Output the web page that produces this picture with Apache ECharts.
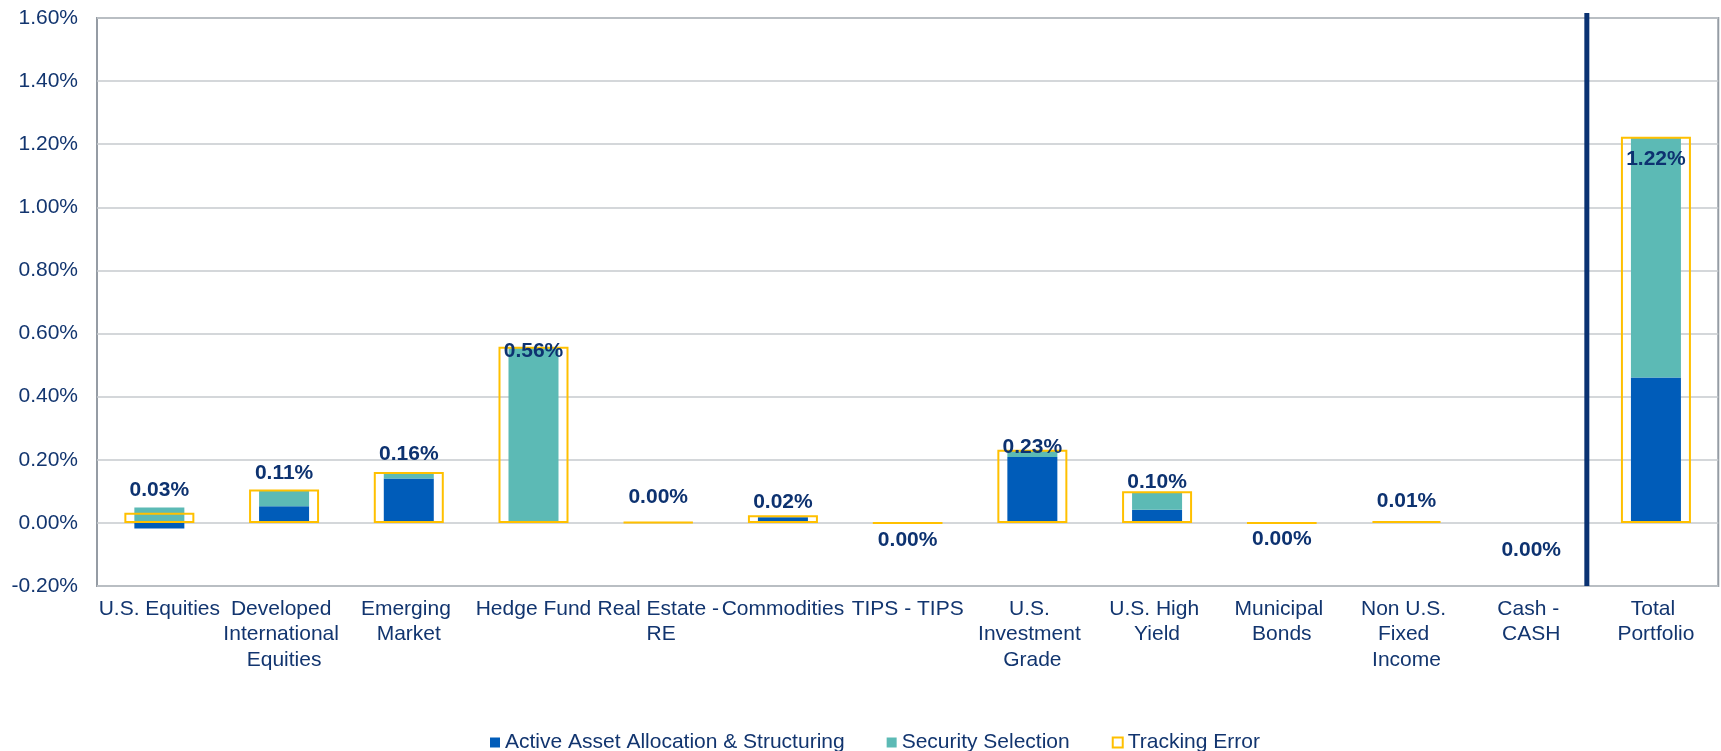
<!DOCTYPE html>
<html>
<head>
<meta charset="utf-8">
<script src="https://cdn.jsdelivr.net/npm/echarts@6/dist/echarts.min.js"></script>
<style>
  html, body { margin: 0; padding: 0; background: #fff; }
  #main { width: 1721px; height: 751px; }
</style>
</head>
<body>
<div id="main"></div>
<script>
// asset classes, last one is the portfolio total
const categories = ['U.S. Equities', 'Developed International Equities', 'Emerging Market', 'Hedge Fund',
    'Real Estate - RE', 'Commodities', 'TIPS - TIPS', 'U.S. Investment Grade', 'U.S. High Yield',
    'Municipal Bonds', 'Non U.S. Fixed Income', 'Cash - CASH', 'Total Portfolio']

// contributions in %
const allocation = [-0.018, 0.053, 0.141, 0, 0, 0.018, 0, 0.209, 0.042, 0, 0, 0, 0.461]
const selection = [0.049, 0.050, 0.016, 0.557, 0, 0, 0, 0.022, 0.056, 0, 0, 0, 0.762]
const trackingError = [0.032, 0.106, 0.161, 0.558, 0.002, 0.024, -0.001, 0.232, 0.100, -0.001, 0.006, 0, 1.224]

const yTicks = { min: -0.2, max: 1.6, step: 0.2 }

const seriesNames = ['Active Asset Allocation & Structuring', 'Security Selection', 'Tracking Error']

const navy = '#12356f'
const font = 'Liberation Sans, Arial, sans-serif'

// label nudges (px) so the value labels sit where the original put them
const labelNudge = [-12, -6, -7, 15, -14, -3, 29, 8, 1, 28, -9, 38, 33]

const chart = echarts.init(document.getElementById('main'))

let teData = trackingError.map(function (v, i) {
    return {
        value: v,
        itemStyle: v === 0 ? { borderWidth: 0 } : undefined,
        label: { offset: [0, labelNudge[i]] }
    }
})

chart.setOption({
    animation: false,
    textStyle: { fontFamily: font },
    grid: {
        left: 97, right: 2, top: 18, bottom: 165,
        show: true, borderColor: '#959ca4', borderWidth: 2
    },
    legend: {
        left: 485, top: 727,
        itemWidth: 10, itemHeight: 10, itemGap: 42,
        textStyle: { color: navy, fontSize: 21, fontFamily: font },
        data: [
            { name: seriesNames[0], icon: 'rect' },
            { name: seriesNames[1], icon: 'rect' },
            { name: seriesNames[2], icon: 'rect',
              itemStyle: { color: 'transparent', borderColor: '#ffc000', borderWidth: 2 } }
        ]
    },
    xAxis: [
        {
            type: 'category',
            data: categories,
            axisLine: { show: false },
            axisTick: { show: false },
            axisLabel: {
                interval: 0, margin: 10,
                color: navy, fontSize: 21, lineHeight: 25.5, fontFamily: font,
                width: 124.2, overflow: 'break'
            }
        },
        {
            type: 'category',
            data: categories,
            show: false
        }
    ],
    yAxis: {
        type: 'value',
        min: yTicks.min, max: yTicks.max, interval: yTicks.step,
        axisLine: { show: false },
        axisTick: { show: false },
        axisLabel: {
            margin: 19, color: navy, fontSize: 21, fontFamily: font,
            formatter: function (v) { return v.toFixed(2) + '%' }
        },
        splitLine: { lineStyle: { color: '#c6cace', width: 1.5 } }
    },
    series: [
        {
            name: seriesNames[0],
            type: 'bar',
            stack: 'contrib',
            barWidth: 50,
            itemStyle: { color: '#005cb9' },
            data: allocation
        },
        {
            name: seriesNames[1],
            type: 'bar',
            stack: 'contrib',
            barWidth: 50,
            itemStyle: { color: '#5cbab5' },
            data: selection
        },
        {
            name: seriesNames[2],
            type: 'bar',
            xAxisIndex: 1,
            barWidth: 70,
            z: 3,
            itemStyle: { color: 'transparent', borderColor: '#ffc000', borderWidth: 2 },
            label: {
                show: true,
                position: 'top',
                distance: 0,
                color: '#0d3270',
                fontSize: 21,
                lineHeight: 21,
                fontWeight: 'bold',
                fontFamily: font,
                formatter: function (p) {
                    return (Math.round(p.value * 100) / 100).toFixed(2) + '%'
                }
            },
            data: teData
        }
    ]
})

// thick divider before the total column
let n = categories.length
let xa = chart.convertToPixel({ xAxisIndex: 0 }, categories[n - 2])
let xb = chart.convertToPixel({ xAxisIndex: 0 }, categories[n - 1])
let yTop = chart.convertToPixel({ yAxisIndex: 0 }, yTicks.max)
let yBot = chart.convertToPixel({ yAxisIndex: 0 }, yTicks.min)
let xs = xa + (xb - xa) * 0.446

chart.setOption({
    graphic: [{
        type: 'line',
        z: 20,
        shape: { x1: xs, y1: yTop - 5, x2: xs, y2: yBot },
        style: { stroke: '#0a3272', lineWidth: 5 }
    }]
})
</script>
</body>
</html>
